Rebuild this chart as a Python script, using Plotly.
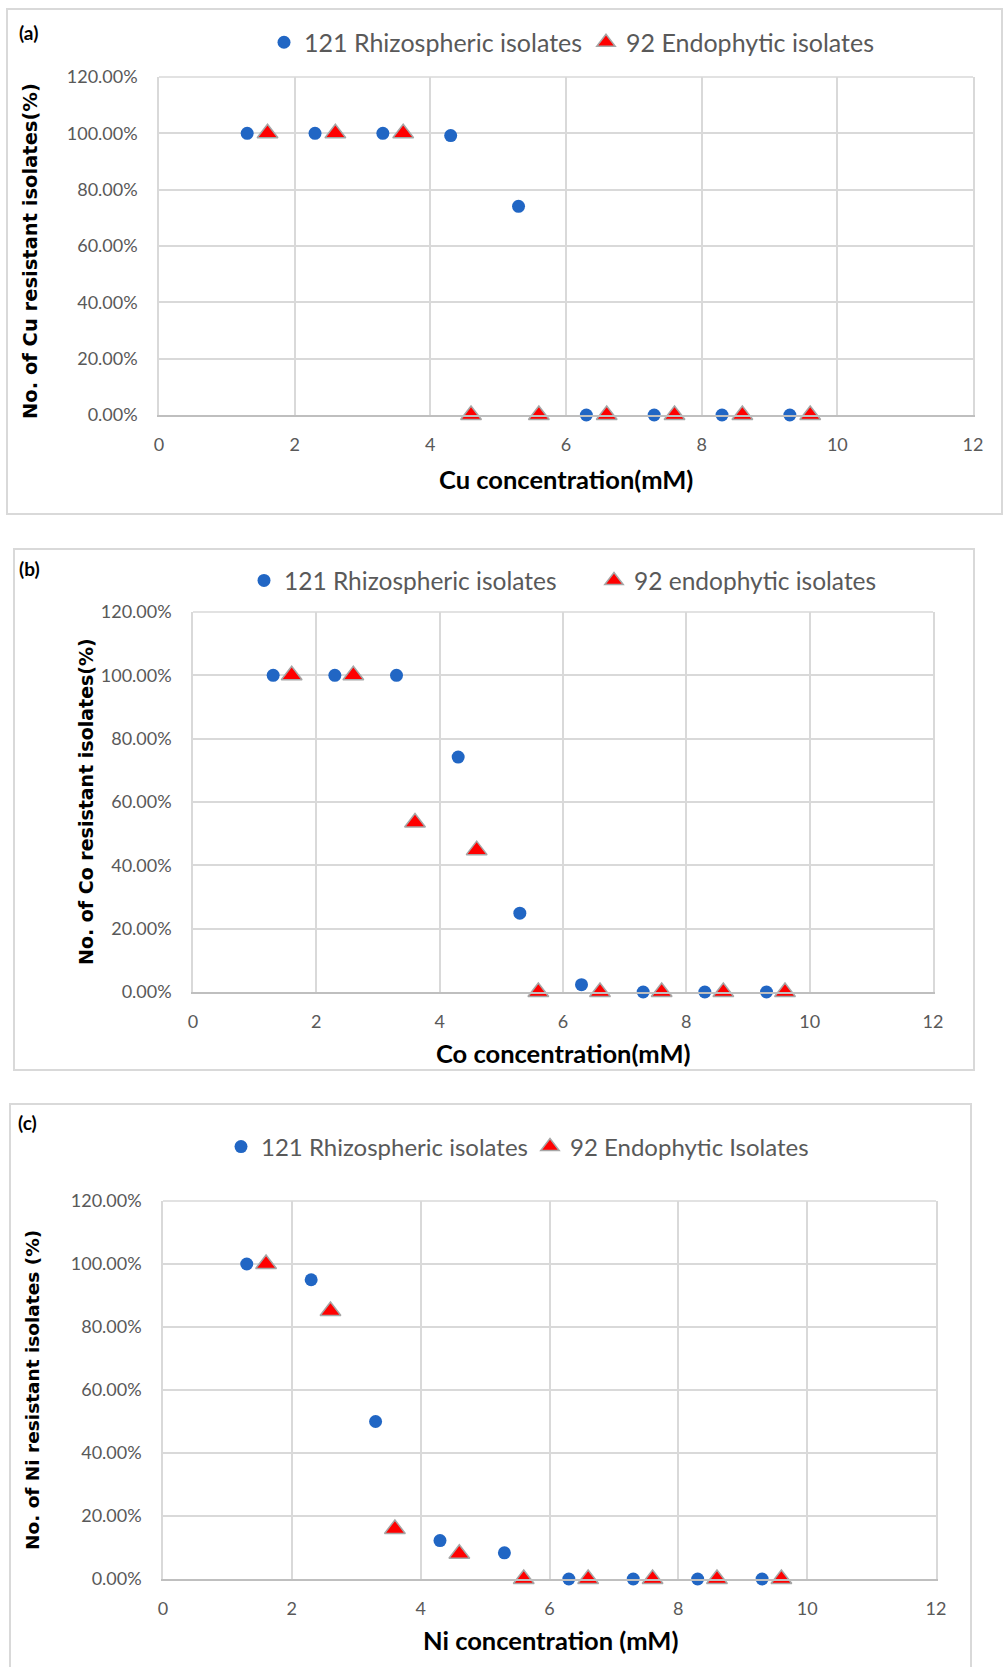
import plotly.graph_objects as go

W, H = 1006, 1667

# ---------------- data ----------------
rhizo_x = [1.3, 2.3, 3.3, 4.3, 5.3, 6.3, 7.3, 8.3, 9.3]
endo_x = [1.6, 2.6, 3.6, 4.6, 5.6, 6.6, 7.6, 8.6, 9.6]

cu_rhizo = [1.00, 1.00, 1.00, 0.992, 0.741, 0.0, 0.0, 0.0, 0.0]
cu_endo = [1.00, 1.00, 1.00, 0.0, 0.0, 0.0, 0.0, 0.0, 0.0]

co_rhizo = [1.00, 1.00, 1.00, 0.742, 0.249, 0.023, 0.0, 0.0, 0.0]
co_endo = [1.00, 1.00, 0.535, 0.448, 0.0, 0.0, 0.0, 0.0, 0.0]

ni_rhizo = [1.00, 0.95, 0.50, 0.122, 0.083, 0.0, 0.0, 0.0, 0.0]
ni_endo = [1.00, 0.851, 0.159, 0.080, 0.0, 0.0, 0.0, 0.0, 0.0]

panels = [
    dict(label="(a)", rhizo=cu_rhizo, endo=cu_endo,
         rname="121 Rhizospheric isolates", ename="92 Endophytic isolates",
         xtitle="Cu concentration(mM)", ytitle="No. of Cu resistant isolates(%)"),
    dict(label="(b)", rhizo=co_rhizo, endo=co_endo,
         rname="121 Rhizospheric isolates", ename="92 endophytic isolates",
         xtitle="Co concentration(mM)", ytitle="No. of Co resistant isolates(%)"),
    dict(label="(c)", rhizo=ni_rhizo, endo=ni_endo,
         rname="121 Rhizospheric isolates", ename="92 Endophytic Isolates",
         xtitle="Ni concentration (mM)", ytitle="No. of Ni resistant isolates (%)"),
]

# ---------------- layout geometry (pixels) ----------------
geo = [
    dict(px=(159, 973), py=(77, 415), box=(7, 9, 1002, 514), lab=(28, 32),
         leg=(284, 42.5), ew=277, lfs=25, xt=(566, 479), yt=(31, 251), yfs=19.5),
    dict(px=(193, 933), py=(612, 992), box=(14, 549, 974, 1070), lab=(29, 568),
         leg=(264, 580.5), ew=305, lfs=24.5, xt=(563, 1053), yt=(86, 802), yfs=19),
    dict(px=(163, 936), py=(1201, 1579), box=(10, 1104, 971, 1680), lab=(27, 1122),
         leg=(241, 1147), ew=264, lfs=24, xt=(550, 1640), yt=(32, 1390), yfs=18.5),
]

def fx(p):
    return p / W

def fy(p):
    return 1 - p / H

BLUE = "#2166C4"
RED = "#FF0000"
GRID = "#D9D9D9"
TICK = "#595959"

fig = go.Figure()
layout = dict(width=W, height=H, margin=dict(l=0, r=0, t=0, b=0, autoexpand=False),
              paper_bgcolor="white", plot_bgcolor="white", showlegend=True)
annotations = []
shapes = []

for i, (p, g) in enumerate(zip(panels, geo)):
    n = "" if i == 0 else str(i + 1)
    xa, ya = "x" + n, "y" + n
    lg = "legend" + n
    fig.add_trace(go.Scatter(
        x=rhizo_x, y=p["rhizo"], mode="markers", name=p["rname"],
        xaxis=xa, yaxis=ya, legend=lg, cliponaxis=False,
        marker=dict(symbol="circle", size=13, color=BLUE, line=dict(width=0))))
    fig.add_trace(go.Scatter(
        x=endo_x, y=p["endo"], mode="markers", name=p["ename"],
        xaxis=xa, yaxis=ya, legend=lg, cliponaxis=False,
        marker=dict(symbol="triangle-up", size=18, color=RED,
                    line=dict(width=1.5, color="#A6A6A6"))))

    layout["xaxis" + n] = dict(
        domain=[fx(g["px"][0]), fx(g["px"][1])], anchor=ya, automargin=False,
        range=[0, 12], dtick=2, tick0=0, showgrid=True, gridcolor=GRID, gridwidth=1.5,
        zeroline=False, showline=True, linecolor="#BFBFBF", linewidth=2,
        ticks="", ticklabelstandoff=12,
        tickfont=dict(family="Lato", size=18, color=TICK))
    layout["yaxis" + n] = dict(
        domain=[fy(g["py"][1]), fy(g["py"][0])], anchor=xa, automargin=False,
        range=[0, 1.2], dtick=0.2, tick0=0, tickformat=".2%",
        showgrid=True, gridcolor=GRID, gridwidth=1.5,
        zeroline=False, showline=True, linecolor=GRID, linewidth=1.5, mirror=True,
        ticks="", ticklabelstandoff=16,
        tickfont=dict(family="Lato", size=18, color=TICK))
    layout[lg] = dict(
        orientation="h", x=fx(g["leg"][0] - 20), xanchor="left",
        y=fy(g["leg"][1]), yanchor="middle", entrywidth=g["ew"], entrywidthmode="pixels",
        font=dict(family="Lato", size=g["lfs"], color=TICK), bgcolor="rgba(0,0,0,0)",
        borderwidth=0, tracegroupgap=0)

    # panel frame
    x0, y0, x1, y1 = g["box"]
    shapes.append(dict(type="rect", xref="paper", yref="paper",
                       x0=fx(x0), x1=fx(x1), y0=fy(y1), y1=fy(y0),
                       line=dict(color="#D9D9D9", width=2), fillcolor="rgba(0,0,0,0)",
                       layer="below"))
    # top border of plot area
    shapes.append(dict(type="line", xref="paper", yref="paper",
                       x0=fx(g["px"][0]), x1=fx(g["px"][1]), y0=fy(g["py"][0]), y1=fy(g["py"][0]),
                       line=dict(color=GRID, width=1.5), layer="below"))

    annotations.append(dict(text="<b>" + p["label"] + "</b>", xref="paper", yref="paper",
                            x=fx(g["lab"][0]), y=fy(g["lab"][1]), xanchor="center", yanchor="middle",
                            showarrow=False, font=dict(family="Lato", size=19, color="black")))
    annotations.append(dict(text="<b>" + p["xtitle"] + "</b>", xref="paper", yref="paper",
                            x=fx(g["xt"][0]), y=fy(g["xt"][1]), xanchor="center", yanchor="middle",
                            showarrow=False, font=dict(family="Lato", size=25.5, color="black")))
    annotations.append(dict(text="<b>" + p["ytitle"] + "</b>", xref="paper", yref="paper",
                            x=fx(g["yt"][0]), y=fy(g["yt"][1]), xanchor="center", yanchor="middle",
                            textangle=-90, showarrow=False,
                            font=dict(family="DejaVu Sans", size=g["yfs"], color="black")))

layout["annotations"] = annotations
layout["shapes"] = shapes
fig.update_layout(**layout)
fig.write_html("out.html", config={"displayModeBar": False},
               post_script="document.body.style.margin='0px';document.body.style.overflow='hidden';")
